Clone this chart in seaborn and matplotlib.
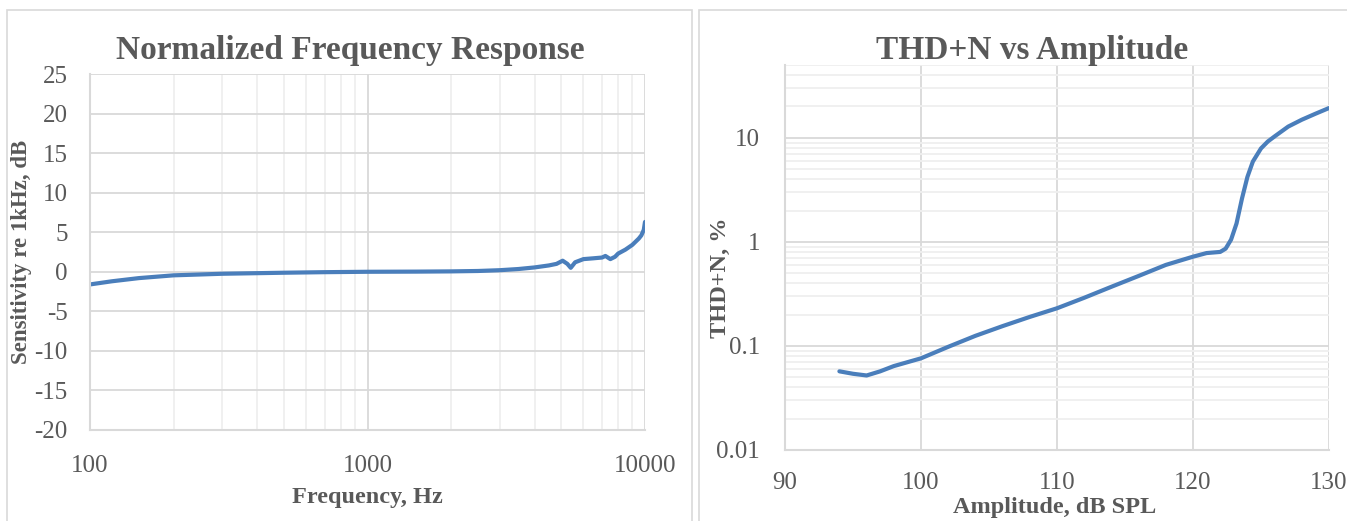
import matplotlib

matplotlib.use("Agg")

import matplotlib.pyplot as plt
import pandas as pd
import seaborn as sns
from matplotlib.patches import Rectangle
from matplotlib.ticker import FixedLocator, FixedFormatter, LogLocator, NullFormatter

# frequency response, Hz -> dB re 1 kHz
freq_hz = [100, 120, 150, 200, 300, 500, 700, 1000, 1500, 2000, 2500, 3000, 3500,
           4000, 4500, 4800, 5050, 5250, 5400, 5600, 6000, 6500, 7000, 7200, 7500,
           7800, 8000, 8500, 9000, 9500, 9700, 9900, 10000]
sens_db = [-1.6, -1.2, -0.8, -0.45, -0.25, -0.12, -0.05, 0.0, 0.02, 0.05, 0.1, 0.2, 0.35,
           0.55, 0.8, 1.0, 1.4, 1.0, 0.5, 1.2, 1.6, 1.7, 1.8, 2.0, 1.6,
           1.9, 2.3, 2.8, 3.4, 4.2, 4.6, 5.3, 6.3]

# THD+N vs amplitude
amp_db = [94, 95, 96, 97, 98, 100, 102, 104, 106, 108, 110, 112, 114, 116, 118, 120, 121,
          122, 122.4, 122.8, 123.2, 123.6, 124, 124.4, 125, 125.5, 126, 127, 128, 129, 130]
thd_pct = [0.057, 0.054, 0.052, 0.057, 0.064, 0.076, 0.098, 0.125, 0.155, 0.19, 0.23, 0.29,
           0.37, 0.47, 0.60, 0.72, 0.78, 0.80, 0.86, 1.05, 1.5, 2.6, 4.2, 5.9, 7.9, 9.2,
           10.3, 12.8, 14.9, 17.0, 19.3]

fr = pd.DataFrame({"freq": freq_hz, "sens": sens_db})
thd = pd.DataFrame({"amp": amp_db, "thd": thd_pct})

sns.set_theme(style="white")
plt.rcParams["font.family"] = ["Liberation Serif", "DejaVu Serif"]
plt.rcParams["axes.unicode_minus"] = False

LINE = "#4a7ebb"
TXT = "#595959"
MAJ = "#d9d9d9"
MIN = "#efefef"

fig = plt.figure(figsize=(13.47, 5.21), dpi=100)

# panel frames
fig.add_artist(Rectangle((7 / 1347, -0.1), 685 / 1347, 1.1 - 10 / 521, transform=fig.transFigure,
                         fill=False, edgecolor=MAJ, lw=1.2))
fig.add_artist(Rectangle((699 / 1347, -0.1), 660 / 1347, 1.1 - 10 / 521, transform=fig.transFigure,
                         fill=False, edgecolor=MAJ, lw=1.2))

ax1 = fig.add_axes([90 / 1347, 1 - 430 / 521, 555 / 1347, 356 / 521])
ax2 = fig.add_axes([785 / 1347, 1 - 450 / 521, 544 / 1347, 385 / 521])

for ax in (ax1, ax2):
    for s in ("top", "right"):
        ax.spines[s].set_visible(False)
    for s in ("left", "bottom"):
        ax.spines[s].set_color(MAJ)
        ax.spines[s].set_linewidth(1.5)
    ax.tick_params(which="both", length=0, colors=TXT, labelsize=18)
    ax.set_axisbelow(True)

# left: frequency response
sns.lineplot(data=fr, x="freq", y="sens", ax=ax1, color=LINE, lw=3)
ax1.set_xscale("log")
ax1.set_xlim(100, 10000)
ax1.set_ylim(-20, 25)
ax1.xaxis.set_major_locator(FixedLocator([100, 1000, 10000]))
ax1.xaxis.set_major_formatter(FixedFormatter(["100", "1000", "10000"]))
ax1.xaxis.set_minor_locator(LogLocator(base=10, subs=range(2, 10)))
ax1.xaxis.set_minor_formatter(NullFormatter())
ax1.set_yticks(range(-20, 30, 5))
ax1.grid(True, which="major", color=MAJ, lw=1.3)
ax1.grid(True, which="minor", axis="x", color=MIN, lw=1.3)
ax1.tick_params(axis="x", pad=18)
ax1.tick_params(axis="y", pad=16)
ax1.set_xlabel("")
ax1.set_ylabel("")

# right: THD+N
sns.lineplot(data=thd, x="amp", y="thd", ax=ax2, color=LINE, lw=3)
ax2.set_yscale("log")
ax2.set_xlim(90, 130)
ax2.set_ylim(0.01, 50)
ax2.set_xticks(range(90, 131, 10))
ax2.yaxis.set_major_locator(FixedLocator([0.01, 0.1, 1, 10]))
ax2.yaxis.set_major_formatter(FixedFormatter(["0.01", "0.1", "1", "10"]))
ax2.yaxis.set_minor_locator(LogLocator(base=10, subs=range(2, 10)))
ax2.yaxis.set_minor_formatter(NullFormatter())
ax2.grid(True, which="major", color=MAJ, lw=1.3)
ax2.grid(True, which="minor", axis="y", color=MIN, lw=1.3)
ax2.tick_params(axis="x", pad=16)
ax2.tick_params(axis="y", pad=18)
ax2.set_xlabel("")
ax2.set_ylabel("")

# titles and axis labels
fig.text(350 / 1347, 1 - 50 / 521, "Normalized Frequency Response", ha="center", va="center",
         fontsize=24, fontweight="bold", color=TXT)
fig.text(1032 / 1347, 1 - 50 / 521, "THD+N vs Amplitude", ha="center", va="center",
         fontsize=24, fontweight="bold", color=TXT)
fig.text(367 / 1347, 1 - 497 / 521, "Frequency, Hz", ha="center", va="center",
         fontsize=17.5, fontweight="bold", color=TXT)
fig.text(1055 / 1347, 1 - 508 / 521, "Amplitude, dB SPL", ha="center", va="center",
         fontsize=17.5, fontweight="bold", color=TXT)
fig.text(22 / 1347, 1 - 252 / 521, "Sensitivity re 1kHz, dB", ha="center", va="center",
         rotation=90, fontsize=16.5, fontweight="bold", color=TXT)
fig.text(720 / 1347, 1 - 278 / 521, "THD+N, %", ha="center", va="center",
         rotation=90, fontsize=17.5, fontweight="bold", color=TXT)

fig.savefig("out.png", dpi=100)
